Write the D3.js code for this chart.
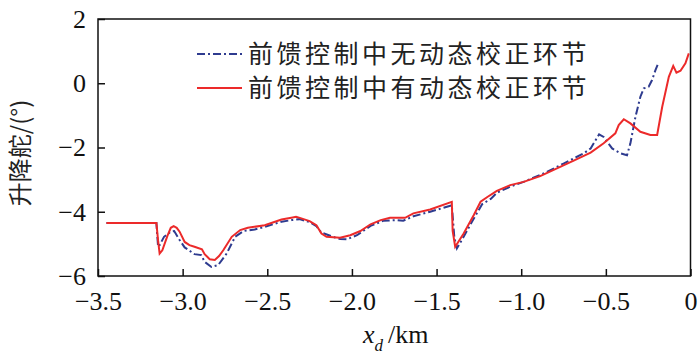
<!DOCTYPE html>
<meta charset="utf-8">
<script src="https://d3js.org/d3.v7.js"></script>
<style>
  body { margin: 0; background: #fff; }
</style>
<div id="chart"></div>
<script>

// tick values
var xTicks = [-3.5, -3.0, -2.5, -2.0, -1.5, -1.0, -0.5, 0];
var yTicks = [2, 0, -2, -4, -6];

// legend labels
var seriesNames = ["前馈控制中无动态校正环节", "前馈控制中有动态校正环节"];

// without dynamic correction (blue dash-dot)
var blueX = [-3.45, -3.155, -3.15, -3.145, -3.136, -3.11, -3.07, -3.05, -3.018, -2.988,
  -2.93, -2.89, -2.87, -2.83, -2.79, -2.74, -2.69, -2.64, -2.574, -2.515,
  -2.416, -2.357, -2.31, -2.25, -2.21, -2.18, -2.1, -2.07, -2.03, -1.97,
  -1.89, -1.815, -1.736, -1.697, -1.637, -1.538, -1.41, -1.395, -1.38, -1.34,
  -1.28, -1.23, -1.18, -1.144, -1.065, -0.986, -0.868, -0.75, -0.63, -0.59,
  -0.54, -0.513, -0.463, -0.414, -0.375, -0.355, -0.325, -0.296, -0.276, -0.247,
  -0.227, -0.207, -0.188];
var blueY = [-4.35, -4.35, -4.75, -5.09, -5.04, -4.78, -4.62, -4.6, -4.88, -5.11,
  -5.32, -5.35, -5.56, -5.72, -5.66, -5.3, -4.78, -4.6, -4.55, -4.47,
  -4.31, -4.26, -4.23, -4.32, -4.45, -4.65, -4.8, -4.85, -4.86, -4.73,
  -4.44, -4.28, -4.26, -4.28, -4.14, -4.0, -3.8, -4.8, -5.14, -4.78,
  -4.21, -3.76, -3.6, -3.41, -3.22, -3.07, -2.81, -2.5, -2.18, -2.03,
  -1.59, -1.67, -2.03, -2.18, -2.24, -1.87, -1.04, -0.42, -0.16, -0.11,
  0.1, 0.41, 0.65];

// with dynamic correction (red solid)
var redX = [-3.45, -3.155, -3.145, -3.136, -3.12, -3.09, -3.07, -3.053, -3.035, -3.018,
  -2.988, -2.96, -2.93, -2.886, -2.87, -2.84, -2.81, -2.785, -2.76, -2.71,
  -2.66, -2.615, -2.515, -2.416, -2.35, -2.33, -2.308, -2.25, -2.21, -2.18,
  -2.15, -2.07, -2.01, -1.95, -1.89, -1.83, -1.775, -1.686, -1.637, -1.538,
  -1.41, -1.405, -1.39, -1.34, -1.28, -1.24, -1.2, -1.144, -1.065, -0.986,
  -0.888, -0.789, -0.69, -0.59, -0.513, -0.444, -0.424, -0.394, -0.355, -0.296,
  -0.237, -0.197, -0.167, -0.128, -0.102, -0.083, -0.059, -0.03, -0.01];
var redY = [-4.35, -4.35, -4.9, -5.3, -5.2, -4.75, -4.5, -4.45, -4.5, -4.62,
  -4.94, -5.04, -5.09, -5.17, -5.32, -5.48, -5.5, -5.38, -5.2, -4.78,
  -4.57, -4.5, -4.42, -4.24, -4.18, -4.16, -4.19, -4.29, -4.42, -4.68,
  -4.78, -4.81, -4.73, -4.6, -4.39, -4.26, -4.19, -4.19, -4.05, -3.93,
  -3.69, -4.6, -5.09, -4.68, -4.1, -3.69, -3.54, -3.35, -3.17, -3.07,
  -2.89, -2.65, -2.41, -2.16, -1.87, -1.56, -1.3, -1.12, -1.25, -1.51,
  -1.61, -1.61, -0.73, 0.2, 0.54, 0.33, 0.39, 0.62, 0.93];

var blue = blueX.map(function(d, i) { return [d, blueY[i]]; });
var red = redX.map(function(d, i) { return [d, redY[i]]; });

var margin = {top: 19, right: 9.5, bottom: 86, left: 98},
    width = 700 - margin.left - margin.right,
    height = 362 - margin.top - margin.bottom;

var svg = d3.select("#chart")
  .append("svg")
    .attr("width", 700)
    .attr("height", 362)
  .append("g")
    .attr("transform", "translate(" + margin.left + "," + margin.top + ")");

var x = d3.scaleLinear().domain([-3.5, 0]).range([0, width]);
var y = d3.scaleLinear().domain([-6, 2]).range([height, 0]);

var minus = function(s) { return s.replace("-", "\u2212"); };

// x axis, ticks pointing inward
var xAxis = svg.append("g")
  .attr("transform", "translate(0," + height + ")")
  .call(d3.axisBottom(x)
    .tickValues(xTicks)
    .tickSizeInner(-7)
    .tickSizeOuter(0)
    .tickPadding(16)
    .tickFormat(function(d) { return d === 0 ? "0" : minus(d3.format(".1f")(d)); }));

var yAxis = svg.append("g")
  .call(d3.axisLeft(y)
    .tickValues(yTicks)
    .tickSizeInner(-7)
    .tickSizeOuter(0)
    .tickPadding(12)
    .tickFormat(function(d) { return minus(String(d)); }));

svg.selectAll(".domain").remove();
svg.selectAll(".tick line").attr("stroke", "#111").attr("stroke-width", 1.5);
svg.selectAll(".tick text")
  .attr("fill", "#111")
  .style("font-family", "'Liberation Serif', 'Times New Roman', serif")
  .style("font-size", "26px");

// frame
svg.append("rect")
  .attr("width", width)
  .attr("height", height)
  .attr("fill", "none")
  .attr("stroke", "#111")
  .attr("stroke-width", 1.5);

var line = d3.line()
  .x(function(d) { return x(d[0]); })
  .y(function(d) { return y(d[1]); });

svg.append("path")
  .datum(blue)
  .attr("d", line)
  .attr("fill", "none")
  .attr("stroke", "#2e3b8f")
  .attr("stroke-width", 2)
  .attr("stroke-dasharray", "8,3,2,3");

svg.append("path")
  .datum(red)
  .attr("d", line)
  .attr("fill", "none")
  .attr("stroke", "#ec2a2a")
  .attr("stroke-width", 2);

// legend
var legend = svg.append("g")
  .attr("transform", "translate(" + (197 - margin.left) + "," + (54 - margin.top) + ")");

var styles = [
  {color: "#2e3b8f", dash: "8,3,2,3"},
  {color: "#ec2a2a", dash: null}
];

seriesNames.forEach(function(name, i) {
  var row = legend.append("g").attr("transform", "translate(0," + (i * 34) + ")");
  row.append("line")
    .attr("x1", 0).attr("x2", 45)
    .attr("stroke", styles[i].color)
    .attr("stroke-width", 2)
    .attr("stroke-dasharray", styles[i].dash);
  row.append("text")
    .attr("x", 51)
    .attr("dy", "0.36em")
    .attr("fill", "#222")
    .style("font-family", "'Noto Sans CJK SC', sans-serif")
    .style("font-size", "25px")
    .style("letter-spacing", "3.5px")
    .text(name);
});

// axis titles
var xt = svg.append("text")
  .attr("x", 363 - margin.left)
  .attr("y", 343 - margin.top)
  .attr("fill", "#111")
  .style("font-family", "'Liberation Serif', 'Times New Roman', serif")
  .style("font-size", "26px");
xt.append("tspan").style("font-style", "italic").text("x");
xt.append("tspan").style("font-style", "italic").style("font-size", "17px").attr("dy", 8).text("d");
xt.append("tspan").attr("dy", -8).attr("dx", 5).text("/km");

svg.append("text")
  .attr("transform", "translate(" + (20 - margin.left) + "," + (153 - margin.top) + ") rotate(-90)")
  .attr("text-anchor", "middle")
  .attr("dy", "0.36em")
  .attr("fill", "#222")
  .style("font-family", "'Noto Sans CJK SC', sans-serif")
  .style("font-size", "24px")
  .text("升降舵/(°)");

</script>
